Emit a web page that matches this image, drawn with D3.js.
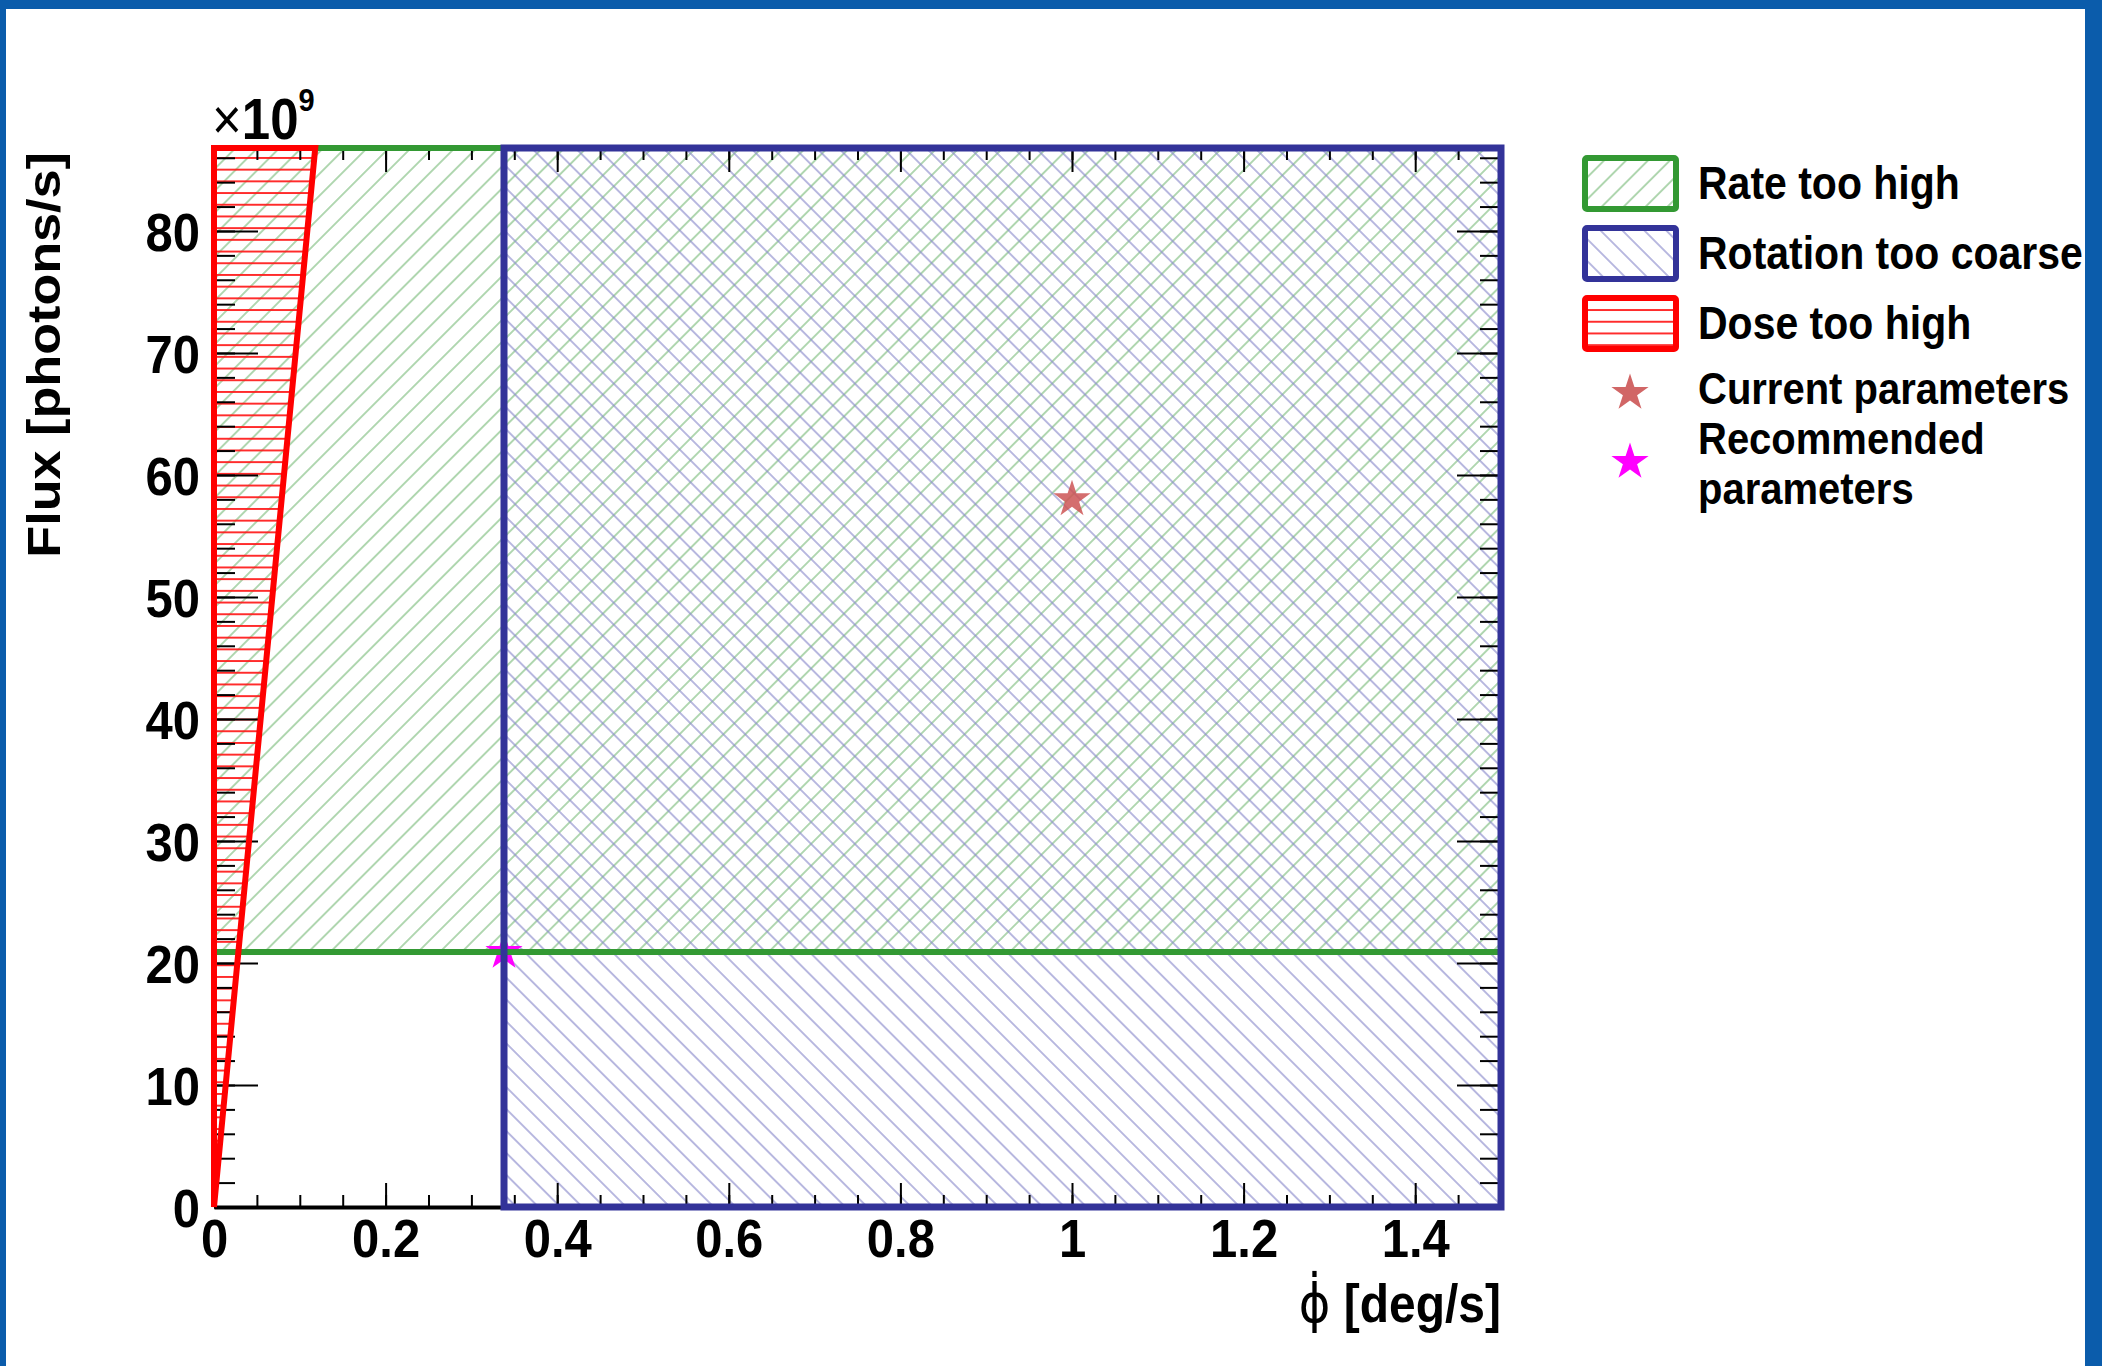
<!DOCTYPE html>
<html>
<head>
<meta charset="utf-8">
<script src="https://cdn.jsdelivr.net/npm/d3@7"></script>
<style>
body { margin: 0; background: #fff; }
svg { display: block; }
</style>
</head>
<body>
<div id="chart"></div>
<script>
// axis ranges and ticks
var xDomain = [0, 1.5];
var yDomain = [0, 86.8];
var xMajorTicks = [0, 0.2, 0.4, 0.6, 0.8, 1, 1.2, 1.4];
var yMajorTicks = [0, 10, 20, 30, 40, 50, 60, 70, 80];
var xMinorTicks = d3.range(0, 1.5, 0.05);
var yMinorTicks = d3.range(0, 87, 2);

// regions (x0, y0, x1, y1) in data units, flux in 1e9 photons/s
var rateRegion = [0, 20.9, 1.5, 86.8];
var rotationRegion = [0.338, 0, 1.5, 86.8];
var doseRegion = [[0, 0], [0.118, 86.8], [0, 86.8]];

// markers
var currentParams = [1.0, 58];
var recommendedParams = [0.338, 20.9];

var legendLabels = ["Rate too high", "Rotation too coarse", "Dose too high", "Current parameters"];
var recommendedLabel = ["Recommended", "parameters"];

var width = 2102,
    height = 1366,
    font = "'Liberation Sans', Arial, sans-serif",
    stretch = 1.11;

var x = d3.scaleLinear().domain(xDomain).range([214, 1501]);
var y = d3.scaleLinear().domain(yDomain).range([1207, 148]);

var svg = d3.select("#chart").append("svg")
    .attr("width", width)
    .attr("height", height);

svg.append("rect").attr("width", width).attr("height", height).attr("fill", "#fff");

var defs = svg.append("defs");

function hatch(id, angle, spacing, color, lw) {
    var p = defs.append("pattern")
        .attr("id", id)
        .attr("patternUnits", "userSpaceOnUse")
        .attr("width", spacing)
        .attr("height", 10)
        .attr("patternTransform", "rotate(" + angle + ")");
    p.append("line")
        .attr("x1", spacing / 2).attr("x2", spacing / 2)
        .attr("y1", 0).attr("y2", 10)
        .attr("stroke", color)
        .attr("stroke-width", lw);
}
hatch("hGreen", 45, 15.5, "#7dbd7d", 1.2);
hatch("hBlue", -45, 15.5, "#8a8acb", 1.2);
hatch("hRed", 90, 11.7, "#ff1a1a", 1.8);

function rectOf(r) {
    return {
        x: x(r[0]), y: y(r[3]),
        w: x(r[2]) - x(r[0]), h: y(r[1]) - y(r[3])
    };
}

var plot = svg.append("g");

// hatched fills
var gr = rectOf(rateRegion);
plot.append("rect").attr("x", gr.x).attr("y", gr.y).attr("width", gr.w).attr("height", gr.h)
    .attr("fill", "url(#hGreen)");
var br = rectOf(rotationRegion);
plot.append("rect").attr("x", br.x).attr("y", br.y).attr("width", br.w).attr("height", br.h)
    .attr("fill", "url(#hBlue)");
var line = d3.line().x(function (d) { return x(d[0]); }).y(function (d) { return y(d[1]); });
plot.append("path").attr("d", line(doseRegion) + "Z").attr("fill", "url(#hRed)");

// stars
var star = d3.symbol().type(d3.symbolStar).size(430);
plot.append("path").attr("d", star)
    .attr("transform", "translate(" + x(recommendedParams[0]) + "," + y(recommendedParams[1]) + ")")
    .attr("fill", "#ff00ff");

// axes
function styleAxis(g) {
    g.selectAll(".tick line").attr("stroke", "#000").attr("stroke-width", 2);
    g.attr("font-family", font).attr("font-weight", "bold").attr("font-size", 49);
}
var fmt = function (d) { return String(d); };

var gxMinor = plot.append("g").attr("transform", "translate(0,1207)")
    .call(d3.axisBottom(x).tickValues(xMinorTicks).tickSize(-12).tickFormat(""));
var gx = plot.append("g").attr("transform", "translate(0,1207)")
    .call(d3.axisBottom(x).tickValues(xMajorTicks).tickSize(-24).tickSizeOuter(0).tickFormat(fmt));
gx.selectAll(".tick text").attr("y", null).attr("dy", null).attr("fill", "#000")
    .attr("transform", "translate(0,50) scale(1," + stretch + ")");
gx.select(".domain").attr("stroke", "#000").attr("stroke-width", 4);
gxMinor.select(".domain").remove();

var gxTopMinor = plot.append("g").attr("transform", "translate(0,148)")
    .call(d3.axisTop(x).tickValues(xMinorTicks).tickSize(-12).tickFormat(""));
var gxTop = plot.append("g").attr("transform", "translate(0,148)")
    .call(d3.axisTop(x).tickValues(xMajorTicks).tickSize(-24).tickFormat(""));

var gyMinor = plot.append("g").attr("transform", "translate(214,0)")
    .call(d3.axisLeft(y).tickValues(yMinorTicks).tickSize(-21).tickFormat(""));
var gy = plot.append("g").attr("transform", "translate(214,0)")
    .call(d3.axisLeft(y).tickValues(yMajorTicks).tickSize(-44).tickFormat(fmt));
gy.selectAll(".tick text").attr("x", 0).attr("dy", "0.36em").attr("fill", "#000")
    .attr("transform", "translate(-14,0) scale(1," + stretch + ")");

var gyRightMinor = plot.append("g").attr("transform", "translate(1501,0)")
    .call(d3.axisRight(y).tickValues(yMinorTicks).tickSize(-21).tickFormat(""));
var gyRight = plot.append("g").attr("transform", "translate(1501,0)")
    .call(d3.axisRight(y).tickValues(yMajorTicks).tickSize(-44).tickFormat(""));

[gxMinor, gx, gxTopMinor, gxTop, gyMinor, gy, gyRightMinor, gyRight].forEach(styleAxis);
[gxTopMinor, gxTop, gyMinor, gy, gyRightMinor, gyRight].forEach(function (g) {
    g.select(".domain").remove();
});

// region borders
plot.append("rect").attr("x", gr.x).attr("y", gr.y).attr("width", gr.w).attr("height", gr.h)
    .attr("fill", "none").attr("stroke", "#339933").attr("stroke-width", 6);
plot.append("rect").attr("x", br.x).attr("y", br.y).attr("width", br.w).attr("height", br.h)
    .attr("fill", "none").attr("stroke", "#333399").attr("stroke-width", 7);
plot.append("path").attr("d", line(doseRegion) + "Z")
    .attr("fill", "none").attr("stroke", "#ff0000").attr("stroke-width", 6)
    .attr("stroke-linejoin", "miter");

plot.append("path").attr("d", star)
    .attr("transform", "translate(" + x(currentParams[0]) + "," + y(currentParams[1]) + ")")
    .attr("fill", "#cc5555").attr("fill-opacity", 0.85);

// texts
function text(str, tx, ty, size, anchor) {
    return svg.append("text")
        .attr("transform", "translate(" + tx + "," + ty + ") scale(1," + stretch + ")")
        .attr("font-family", font)
        .attr("font-weight", "bold")
        .attr("font-size", size)
        .attr("text-anchor", anchor || "start")
        .attr("fill", "#000")
        .text(str);
}

// exponent
var ex = svg.append("text")
    .attr("transform", "translate(212,139) scale(1," + stretch + ")")
    .attr("font-family", font).attr("font-size", 51).attr("fill", "#000");
ex.append("tspan").attr("font-weight", "normal").text("\u00d7");
ex.append("tspan").attr("font-weight", "bold").text("10");
ex.append("tspan").attr("font-weight", "bold").attr("font-size", 29).attr("dy", -25).text("9");

// y title
svg.append("text")
    .attr("transform", "translate(60,152) rotate(-90) scale(" + stretch + ",1)")
    .attr("font-family", font).attr("font-weight", "bold").attr("font-size", 47)
    .attr("text-anchor", "end").attr("fill", "#000")
    .text("Flux [photons/s]");

// x title
var xt = svg.append("text")
    .attr("transform", "translate(1501,1322) scale(1," + stretch + ")")
    .attr("font-family", font).attr("font-weight", "bold").attr("font-size", 48)
    .attr("text-anchor", "end").attr("fill", "#000");
xt.append("tspan").attr("font-family", "'DejaVu Sans', sans-serif").attr("font-weight", "normal")
    .text("\u03d5\u0307");
xt.append("tspan").text(" [deg/s]");

// legend
var legendBoxes = [
    { fill: "url(#hGreen)", stroke: "#339933", top: 158 },
    { fill: "url(#hBlue)", stroke: "#333399", top: 228 },
    { fill: "url(#hRed)", stroke: "#ff0000", top: 298 }
];
legendBoxes.forEach(function (b, i) {
    svg.append("rect").attr("x", 1585).attr("y", b.top).attr("width", 91).attr("height", 51)
        .attr("fill", b.fill).attr("stroke", b.stroke).attr("stroke-width", 6).attr("rx", 2);
    text(legendLabels[i], 1698, b.top + 41, 41);
});
svg.append("path").attr("d", star).attr("transform", "translate(1630,393)")
    .attr("fill", "#cc5555").attr("fill-opacity", 0.9);
text(legendLabels[3], 1698, 404, 40);
svg.append("path").attr("d", star).attr("transform", "translate(1630,462)")
    .attr("fill", "#ff00ff");
text(recommendedLabel[0], 1698, 454, 40);
text(recommendedLabel[1], 1698, 504, 40);

// slide frame
svg.append("rect").attr("x", 0).attr("y", 0).attr("width", width).attr("height", 9).attr("fill", "#0b5cab");
svg.append("rect").attr("x", 0).attr("y", 0).attr("width", 6).attr("height", height).attr("fill", "#0b5cab");
svg.append("rect").attr("x", 2085).attr("y", 0).attr("width", 17).attr("height", height).attr("fill", "#0b5cab");
</script>
</body>
</html>
